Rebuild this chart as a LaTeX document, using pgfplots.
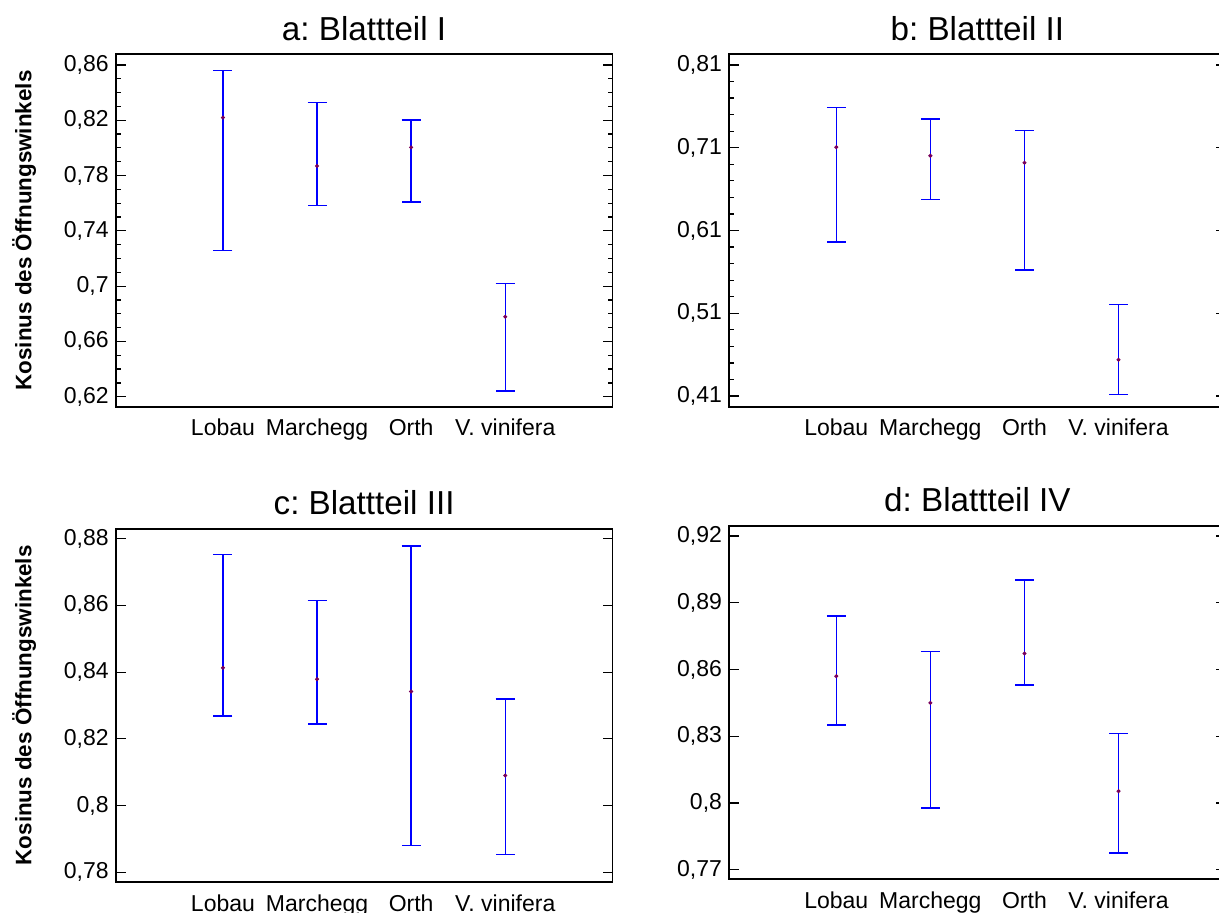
\documentclass[border=0pt]{standalone}
\usepackage{fontspec}
\setmainfont{Liberation Sans}
\usepackage{pgfplots}
\usepackage{pgfplotstable}
\pgfplotsset{compat=1.18}

\definecolor{barblue}{RGB}{0,0,255}
\definecolor{dotpurple}{RGB}{120,0,90}

% mean, upper and lower limit per group
\pgfplotstableread{
x y hi lo
0 0.8219 0.8559 0.7259
1 0.7869 0.8327 0.7582
2 0.8004 0.8202 0.7609
3 0.6779 0.7020 0.6241
}\dataA
\pgfplotstableread{
x y hi lo
0 0.7107 0.7589 0.5961
1 0.7003 0.7445 0.6476
2 0.6918 0.7308 0.5624
3 0.4538 0.5206 0.4120
}\dataB
\pgfplotstableread{
x y hi lo
0 0.8413 0.8752 0.8268
1 0.8379 0.8614 0.8244
2 0.8342 0.8778 0.7881
3 0.8090 0.8320 0.7853
}\dataC
\pgfplotstableread{
x y hi lo
0 0.8570 0.8840 0.8351
1 0.8450 0.8681 0.7978
2 0.8672 0.9002 0.8530
3 0.8053 0.8312 0.7775
}\dataD

\pgfplotsset{
  blatt/.style={
    scale only axis,
    width=248.4pt,
    xmin=-1.14, xmax=4.14,
    xtick={0,1,2,3},
    xticklabels={Lobau, Marchegg, Orth, V. vinifera},
    xtick style={draw=none},
    tick align=inside,
    ytick pos=both, yticklabel pos=left,
    major tick length=5pt, minor tick length=2.5pt,
    every tick/.style={black, line width=0.6pt},
    axis line style={line width=0.9pt},
    ticklabel style={font=\fontsize{11.5}{13}\selectfont},
    xticklabel style={yshift=-2.7pt},
    scaled y ticks=false,
    /pgf/number format/assume math mode=true,
    /pgf/number format/use comma,
    every axis title/.style={at={(0.5,1)}, anchor=base, yshift=7pt,
      font=\fontsize{16.6}{19}\selectfont},
    every axis y label/.style={at={(axis description cs:-0.209,0.5)},
      rotate=90, anchor=north, inner sep=0pt,
      font=\bfseries\fontsize{11.2}{13}\selectfont},
  },
  ebar/.style={barblue, only marks, mark=*, mark size=0.8pt,
    mark options={draw=dotpurple, fill=dotpurple},
    error bars/.cd, y dir=both, y explicit,
    error mark=|,
    error bar style={draw=barblue, line width=0.7pt},
    error mark options={draw=barblue, line width=0.7pt, mark size=4.75pt}},
}

\begin{document}
\frenchspacing
\begin{tikzpicture}
\useasboundingbox (0,0) rectangle (609.5pt,456.5pt);
\clip (0,0) rectangle (609.5pt,456.5pt);

\begin{axis}[blatt, at={(57.85pt,253.15pt)}, anchor=south west,
    height=176.2pt, ymin=0.6128, ymax=0.8677,
    ytick={0.62,0.66,0.70,0.74,0.78,0.82,0.86}, minor y tick num=3,
    title={a: Blattteil I}, ylabel={Kosinus des Öffnungswinkels}]
\addplot[ebar] table[x=x, y=y, y error plus expr=\thisrow{hi}-\thisrow{y},
    y error minus expr=\thisrow{y}-\thisrow{lo}] {\dataA};
\end{axis}

\begin{axis}[blatt, at={(364.5pt,253.15pt)}, anchor=south west,
    height=176.2pt, ymin=0.3971, ymax=0.8229,
    ytick={0.41,0.51,0.61,0.71,0.81}, minor y tick num=4,
    title={b: Blattteil II}]
\addplot[ebar] table[x=x, y=y, y error plus expr=\thisrow{hi}-\thisrow{y},
    y error minus expr=\thisrow{y}-\thisrow{lo}] {\dataB};
\end{axis}

\begin{axis}[blatt, at={(57.85pt,15.5pt)}, anchor=south west,
    height=176.65pt, ymin=0.7771, ymax=0.8830,
    ytick={0.78,0.80,0.82,0.84,0.86,0.88},
    title={c: Blattteil III}, ylabel={Kosinus des Öffnungswinkels}]
\addplot[ebar] table[x=x, y=y, y error plus expr=\thisrow{hi}-\thisrow{y},
    y error minus expr=\thisrow{y}-\thisrow{lo}] {\dataC};
\end{axis}

\begin{axis}[blatt, at={(364.5pt,16.85pt)}, anchor=south west,
    height=176.65pt, ymin=0.7657, ymax=0.9245,
    ytick={0.77,0.80,0.83,0.86,0.89,0.92},
    title={d: Blattteil IV}]
\addplot[ebar] table[x=x, y=y, y error plus expr=\thisrow{hi}-\thisrow{y},
    y error minus expr=\thisrow{y}-\thisrow{lo}] {\dataD};
\end{axis}
\end{tikzpicture}
\end{document}
